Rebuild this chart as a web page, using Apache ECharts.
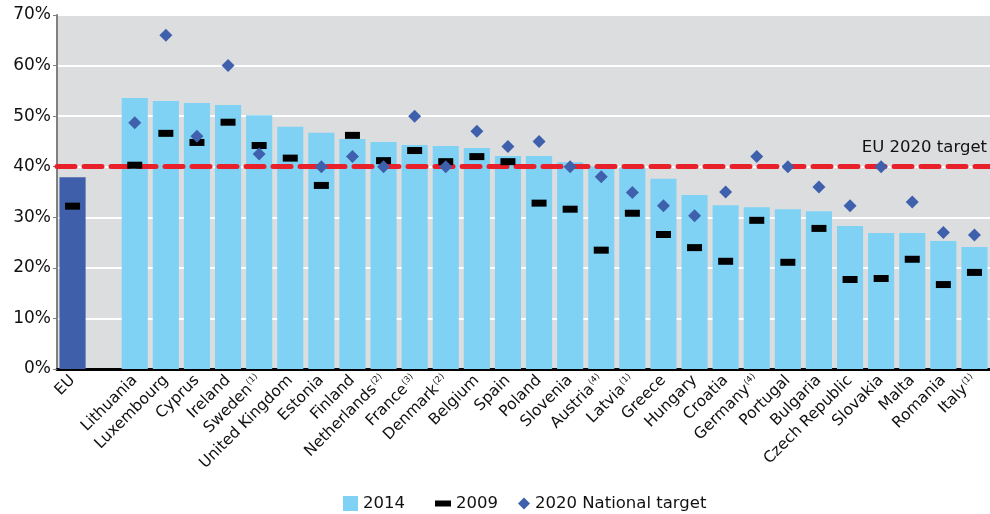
<!DOCTYPE html>
<html>
<head>
<meta charset="utf-8">
<script src="https://cdn.jsdelivr.net/npm/echarts@6/dist/echarts.min.js"></script>
<style>html,body{margin:0;padding:0;background:#fff}#c{width:990px;height:514px}</style>
</head>
<body>
<div id="c"></div>
<script>
var categories = ['EU','','Lithuania','Luxembourg','Cyprus','Ireland','Sweden','United Kingdom','Estonia','Finland','Netherlands','France','Denmark','Belgium','Spain','Poland','Slovenia','Austria','Latvia','Greece','Hungary','Croatia','Germany','Portugal','Bulgaria','Czech Republic','Slovakia','Malta','Romania','Italy'];
var notes = ['','','','','','','(1)','','','','(2)','(3)','(2)','','','','','(4)','(1)','','','','(4)','','','','','','','(1)'];
var values2014 = [37.9,null,53.6,53.0,52.6,52.2,50.2,47.9,46.7,45.5,44.9,44.3,44.1,43.7,42.1,42.1,40.9,40.1,39.9,37.6,34.4,32.4,32.0,31.6,31.2,28.3,26.9,26.9,25.3,24.1];
var values2009 = [32.2,null,40.3,46.6,44.8,48.8,44.2,41.7,36.3,46.2,41.2,43.2,41.0,42.0,41.0,32.8,31.6,23.5,30.8,26.6,24.0,21.3,29.4,21.1,27.8,17.7,17.9,21.7,16.7,19.1];
var targets2020 = [null,null,48.7,66.0,46.0,60.0,42.5,null,40.0,42.0,40.0,50.0,40.0,47.0,44.0,45.0,40.0,38.0,34.9,32.3,30.3,35.0,42.0,40.0,36.0,32.3,40.0,33.0,27.0,26.5];
var euTarget = 40;

var FONT = 'DejaVu Sans';
var chart = echarts.init(document.getElementById('c'));
var barData = values2014.map(function(v,i){
  if (i === 0) return {value: v, itemStyle: {color: '#3F5FAA'}};
  return v;
});
var legText = {fontSize: 16.5, color: '#111', fontFamily: FONT};
chart.setOption({
  animation: false,
  textStyle: {fontFamily: FONT},
  grid: {left: 57, right: 0, top: 15, bottom: 145, show: true, backgroundColor: '#DCDDDF', borderWidth: 0},
  legend: [
    {data: [{name: '2014', icon: 'rect'}], left: 343, top: 495, padding: 0, itemWidth: 15, itemHeight: 15, textStyle: legText},
    {data: [{name: '2009', icon: 'rect'}], left: 435, top: 495, padding: 0, itemWidth: 16, itemHeight: 6, textStyle: legText},
    {data: [{name: '2020 National target', icon: 'diamond'}], left: 518, top: 495, padding: 0, itemWidth: 12, itemHeight: 12, textStyle: legText}
  ],
  xAxis: {
    type: 'category',
    data: categories,
    axisLine: {lineStyle: {color: '#000', width: 3}},
    axisTick: {show: false},
    axisLabel: {
      interval: 0, rotate: 45, fontSize: 15.5, color: '#111', margin: 9, fontFamily: FONT,
      formatter: function(v, i){ return notes[i] ? v + '{s|' + notes[i] + '}' : v; },
      rich: {s: {fontSize: 8.5, verticalAlign: 'top', color: '#111', padding: [0,0,8,1], fontFamily: FONT}}
    }
  },
  yAxis: {
    type: 'value', min: 0, max: 70, interval: 10,
    axisLine: {show: true, lineStyle: {color: '#808080', width: 2}},
    axisTick: {show: true, length: 4, lineStyle: {color: '#808080', width: 1}},
    axisLabel: {formatter: '{value}%', fontSize: 17, color: '#111', margin: 6, fontFamily: FONT},
    splitLine: {lineStyle: {color: '#FFFFFF', width: 2}}
  },
  series: [
    {
      name: '2014', type: 'bar', data: barData, barCategoryGap: '16%',
      itemStyle: {color: '#80D2F5'}, z: 2,
      markLine: {
        silent: true, symbol: 'none', z: 3,
        lineStyle: {color: '#E8202A', width: 5, type: [18, 9], cap: 'round', opacity: 1},
        label: {show: true, position: 'insideEndTop', formatter: 'EU 2020 target', fontSize: 16.5, color: '#111', distance: [3, 10], fontFamily: FONT},
        data: [{yAxis: euTarget}]
      }
    },
    {
      name: '2009', type: 'scatter', data: values2009, symbol: 'rect', symbolSize: [15, 7],
      itemStyle: {color: '#000', opacity: 1}, z: 5
    },
    {
      name: '2020 National target', type: 'scatter', data: targets2020, symbol: 'diamond', symbolSize: 13,
      itemStyle: {color: '#3F60AC', opacity: 1}, z: 6
    }
  ]
});
</script>
</body>
</html>
